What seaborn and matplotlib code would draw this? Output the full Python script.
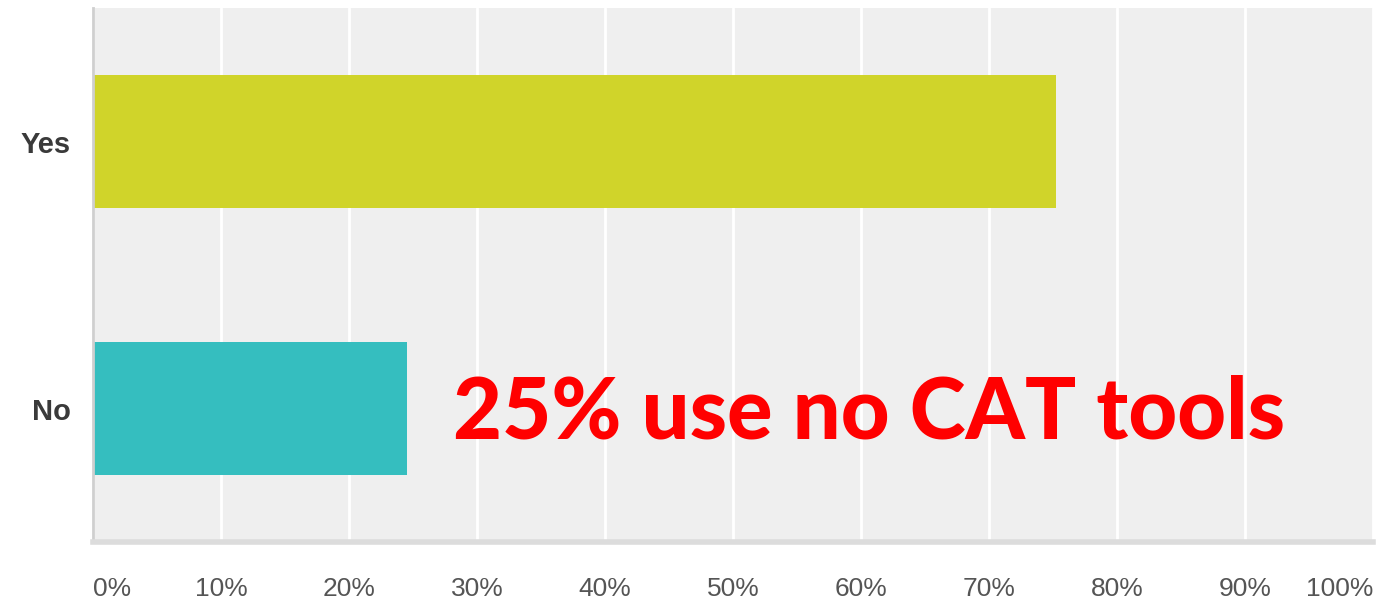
import matplotlib
matplotlib.use("Agg")
import matplotlib.pyplot as plt
import seaborn as sns
import pandas as pd

answers = ["Yes", "No"]
shares = [75.2, 24.5]
bar_colors = ["#D0D42A", "#35BEBF"]
tick_values = [0, 10, 20, 30, 40, 50, 60, 70, 80, 90, 100]
tick_labels = [f"{v}%" for v in tick_values]
note = "25% use no CAT tools"

df = pd.DataFrame({"answer": answers, "share": shares})

sns.set_theme(style="white")
plt.rcParams["font.family"] = ["Liberation Sans", "DejaVu Sans"]

fig = plt.figure(figsize=(13.8, 6.07), dpi=100)
ax = fig.add_axes([93 / 1380, 1 - 542 / 607, 1280 / 1380, 534 / 607])
ax.set_facecolor("#EFEFEF")

sns.barplot(data=df, x="share", y="answer", hue="answer", palette=bar_colors,
            width=0.5, legend=False, ax=ax, saturation=1, linewidth=0)

ax.set_xlim(0, 100)
ax.set_ylim(1.5, -0.5)
ax.set_xticks(tick_values)
ax.set_xticklabels(tick_labels, fontsize=19, color="#555555")
ax.tick_params(axis="x", length=0, pad=25)
xlabels = ax.get_xticklabels()
xlabels[0].set_horizontalalignment("left")
xlabels[-1].set_horizontalalignment("right")
ax.tick_params(axis="y", length=0, pad=16)
for lbl in ax.get_yticklabels():
    lbl.set_fontsize(21)
    lbl.set_fontweight("bold")
    lbl.set_color("#3A3A3A")
ax.set_xlabel("")
ax.set_ylabel("")

ax.grid(axis="x", color="white", linewidth=2)
ax.set_axisbelow(True)
for side in ["top", "right"]:
    ax.spines[side].set_visible(False)
ax.spines["left"].set_color("#CFCFCF")
ax.spines["left"].set_linewidth(2)
ax.spines["bottom"].set_color("#DCDCDC")
ax.spines["bottom"].set_linewidth(4)

ax.text(60.6, 1.02, note, color="#FF0000", fontsize=61, fontweight=900,
        family=["Lato", "DejaVu Sans"], ha="center", va="center")

fig.savefig("out.png", dpi=100)
